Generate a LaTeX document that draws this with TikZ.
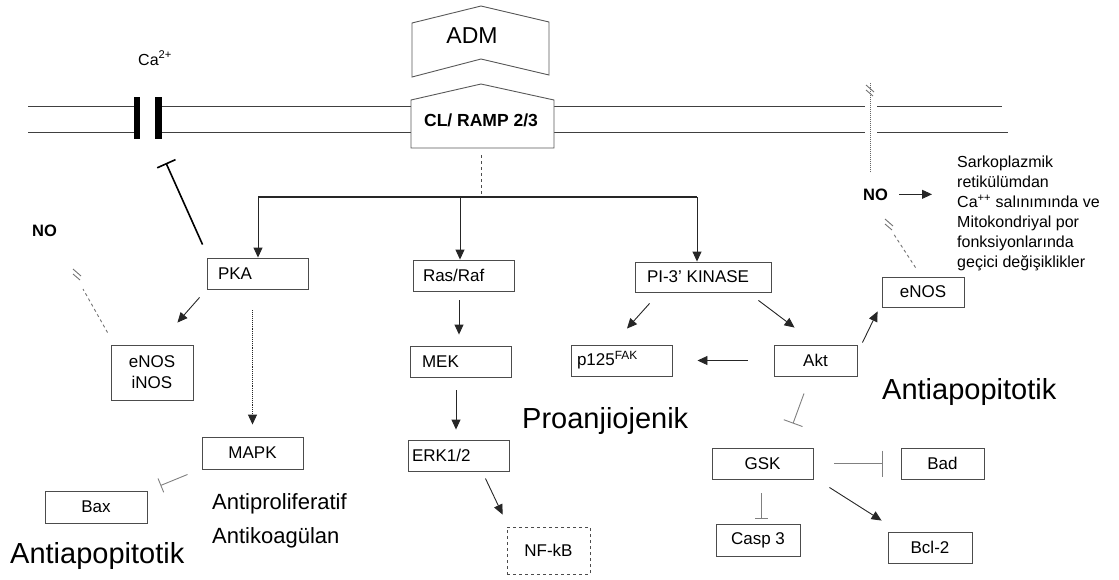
\documentclass[tikz,border=0pt]{standalone}
\usepackage{fontspec}
\setmainfont{Liberation Sans}
\usetikzlibrary{arrows.meta,calc}

\newcommand{\lefttext}[2]{\makebox[#1][l]{#2}}

\begin{document}
\begin{tikzpicture}[x=1pt,y=-1pt,
    box/.style={draw=black!70,line width=0.9pt,inner sep=0pt,minimum height=31pt,font=\fontsize{17}{21}\selectfont},
    lbox/.style={box,inner xsep=#1},
    arr/.style={draw=black!85,line width=0.9pt,-{Triangle[length=10pt,width=9pt]}},
    inh/.style={draw=black!50,line width=0.9pt,-{Bar[width=#1]}},
    lbl/.style={inner sep=0pt,font=\fontsize{16}{20}\selectfont},
    bold/.style={inner sep=0pt,font=\fontsize{16.5}{20}\selectfont\bfseries},
    big/.style={inner sep=0pt,font=\fontsize{29}{34}\selectfont},
    mid/.style={inner sep=0pt,font=\fontsize{22}{26}\selectfont},
    brk/.pic={\draw[black!55,line width=0.9pt] (-4,-5) -- (4,2) (-4,0) -- (3,6);}]
  \useasboundingbox (0,0) rectangle (1119,579);

  \foreach \y/\r in {106/1002,132/1008} {
    \draw[black!75,line width=0.9pt] (28,\y) -- (134,\y) (162,\y) -- (411,\y)
      (554,\y) -- (865,\y) (877,\y) -- (\r,\y);
  }
  \fill (134,97) rectangle (140,139);
  \fill (155,97) rectangle (162,139);
  \draw[black!65,line width=0.9pt,fill=white] (412,23) -- (481,6) -- (549,22) -- (549,75) -- (481,59) -- (412,77) -- cycle;
  \draw[black!65,line width=0.9pt,fill=white] (411,100) -- (481,84) -- (554,100) -- (554,148) -- (411,148) -- cycle;

  \node[lbl,anchor=base west] (ca) at (138,65) {Ca\textsuperscript{2+}};
  \node[inner sep=0pt,font=\fontsize{23}{28}\selectfont,anchor=base] (adm) at (472,43) {ADM};
  \node[inner sep=0pt,font=\fontsize{17.5}{21}\selectfont\bfseries,anchor=base] (ramp) at (481,126) {CL/ RAMP 2/3};
  \node[bold,anchor=base west] (no-l) at (32,236) {NO};
  \node[bold,anchor=base west] (no-r) at (863,200) {NO};
  \node[lbl,anchor=north west,align=left] (srel) at (957,156) {Sarkoplazmik\\retikülümdan\\Ca\textsuperscript{++} salınımında ve\\Mitokondriyal por\\fonksiyonlarında\\geçici değişiklikler};

  \node[lbox=11pt] (pka) at (257.5,273.5) {\lefttext{79pt}{PKA}};
  \node[box,minimum width=82pt,minimum height=55pt,align=center] (nos1) at (152,372.5) {eNOS\\iNOS};
  \node[box,minimum width=101pt,minimum height=32pt] (mapk) at (252.5,453) {MAPK};
  \node[box,minimum width=102pt,minimum height=32pt] (bax) at (96,507) {Bax};
  \node[lbox=10pt] (ras) at (463.5,275.5) {\lefttext{81pt}{Ras/Raf}};
  \node[lbox=12pt] (mek) at (460.5,361.5) {\lefttext{77pt}{MEK}};
  \node[lbox=4pt] (erk) at (458.5,455.5) {\lefttext{93pt}{ERK1/2}};
  \node[box,dashed,minimum width=83pt,minimum height=47pt] (nfkb) at (548.5,550.5) {NF-kB};
  \node[lbox=12pt,minimum height=30pt] (pi3k) at (703,277) {\lefttext{112pt}{PI-3' KINASE}};
  \node[lbox=6pt] (p125) at (621.5,360.5) {\lefttext{89pt}{p125\textsuperscript{FAK}}};
  \node[box,minimum width=83pt] (akt) at (815.5,360.5) {Akt};
  \node[box,minimum width=82pt,minimum height=30pt] (enos) at (923,292) {eNOS};
  \node[box,minimum width=101pt] (gsk) at (762.5,463.5) {GSK};
  \node[box,minimum width=83pt] (bad) at (942.5,463.5) {Bad};
  \node[box,minimum width=84pt,minimum height=32pt] (casp) at (758,540) {Casp 3};
  \node[box,minimum width=84pt] (bcl) at (930,547.5) {Bcl-2};

  \node[mid,anchor=base west] (prolif) at (212,509) {Antiproliferatif};
  \node[mid,anchor=base west] (koag) at (212,543) {Antikoagülan};
  \node[big,anchor=base west] (anti-l) at (10,563) {Antiapopitotik};
  \node[big,anchor=base west] (proang) at (522,428) {Proanjiojenik};
  \node[big,anchor=base west] (anti-r) at (882,399) {Antiapopitotik};

  \coordinate (hub) at (481,197);
  \coordinate (barL) at (258,197);
  \coordinate (barM) at (460,197);
  \coordinate (barR) at (697,197);
  \coordinate (gate) at (166,163);
  \coordinate (brk-l) at (77,274);
  \coordinate (brk-r) at (889,224);
  \coordinate (brk-t) at (870,90);

  \draw[black!70,line width=0.9pt,dashed] ($(ramp.base)+(0,29)$) -- (hub);
  \draw[black!85,line width=2.5pt] (barL) -- (barR);
  \draw[arr] (barL) -- (barL |- pka.north);
  \draw[arr] (barM) -- (barM |- ras.north);
  \draw[arr] (barR) -- (barR |- pi3k.north);

  \draw[black,line width=1.6pt,-{Bar[width=20pt]}] ($(pka.north west)+(-4,-13)$) -- (gate);
  \draw[black!55,line width=0.9pt,dashed] ($(nos1.north west)+(-3,-12)$) -- ($(brk-l)+(6,15)$);
  \pic at (brk-l) {brk};
  \draw[arr] ($(pka.south west)+(-7,8)$) -- ($(nos1.north east)+(-16,-22)$);
  \draw[arr,densely dotted,shorten <=21pt,shorten >=12pt] (mapk.north |- pka.south) -- (mapk.north);
  \draw[inh=15pt] ($(mapk.south west)+(-14,5)$) -- ($(bax.north east)+(13,-5)$);

  \draw[arr,shorten <=9pt,shorten >=11pt] ($(ras.south)+(-4.5,0)$) -- ($(mek.north)+(-1.5,0)$);
  \draw[arr,shorten <=13pt,shorten >=10pt] ($(mek.south)+(-4.5,0)$) -- ($(erk.north)+(-2.5,0)$);
  \draw[arr] ($(erk.south east)+(-24,7)$) -- ($(nfkb.north west)+(-4,-12)$);

  \draw[arr] ($(pi3k.south west)+(15,11)$) -- ($(p125.north)+(5.5,-16)$);
  \draw[arr] ($(pi3k.south east)+(-13,8)$) -- ($(akt.north west)+(21,-17)$);
  \draw[arr,shorten <=26pt,shorten >=25pt] (akt.west) -- (p125.east);
  \draw[arr] ($(akt.north east)+(5,-2)$) -- ($(enos.south west)+(-4,4)$);
  \draw[black!55,line width=0.9pt,dashed] ($(enos.north west)+(34,-9)$) -- ($(brk-r)+(4,9)$);
  \pic at (brk-r) {brk};
  \draw[black!60,line width=1pt,densely dotted] ($(brk-t |- no-r.north)+(0,-16)$) -- ($(brk-t)+(0,-7)$);
  \pic at (brk-t) {brk};
  \draw[arr,shorten <=11pt,shorten >=25pt] (no-r.east) -- (no-r.east -| srel.west);

  \draw[inh=20pt] ($(akt.south)+(-11.5,17)$) -- ($(gsk.north)+(30.5,-24)$);
  \draw[inh=26pt,shorten <=21pt,shorten >=18pt] (gsk.east) -- (bad.west);
  \draw[inh=13pt,shorten <=14pt,shorten >=5pt] ($(gsk.south)+(-1.5,0)$) -- ($(gsk.south |- casp.north)+(-1.5,0)$);
  \draw[arr] ($(gsk.south east)+(16,8)$) -- ($(bcl.north west)+(-6,-11)$);
\end{tikzpicture}
\end{document}
